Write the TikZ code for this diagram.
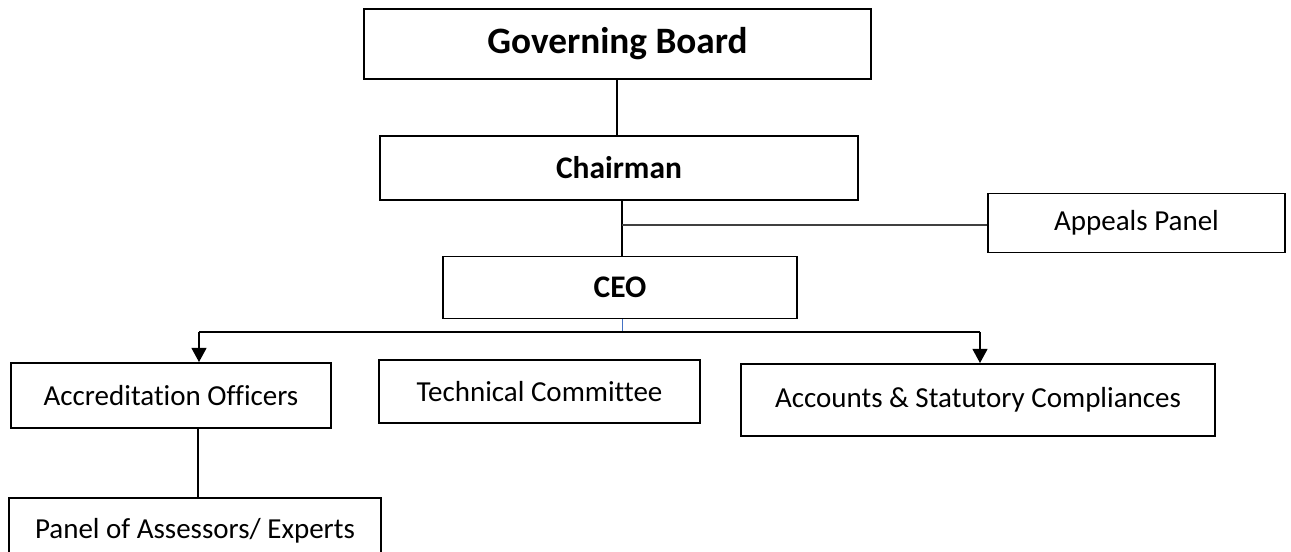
\documentclass[tikz,border=0pt]{standalone}
\usepackage{fontspec}
\setmainfont[Ligatures=NoCommon]{Carlito}
\usepackage{xcolor}
\usetikzlibrary{positioning, calc, arrows.meta}

\definecolor{stubblue}{RGB}{68,114,196}

\tikzset{
  box/.style={draw, line width=1.1pt, inner sep=0pt, align=center, font=\fontsize{16.5}{19}\selectfont},
  boldbox/.style={box, font=\fontsize{17.9}{21}\selectfont\bfseries},
  link/.style={line width=0.9pt},
  drop/.style={line width=0.7pt, -{Triangle[width=8.5pt,length=8pt]}},
}

\begin{document}
\begin{tikzpicture}
      \clip (0,0) rectangle (25.82,-11.04);
      \useasboundingbox (0,0) rectangle (25.82,-11.04);

      \node[boldbox, minimum width=10.14cm, minimum height=1.40cm, font=\fontsize{21.2}{25}\selectfont\bfseries] (board) at (12.35,-0.88) {Governing Board};
      \node[boldbox, minimum width=9.56cm, minimum height=1.28cm] (chair) at (12.38,-3.36) {Chairman};
      \node[box, minimum width=5.94cm, minimum height=1.18cm] (appeal) at (22.73,-4.46) {Appeals Panel};
      \node[boldbox, minimum width=7.08cm, minimum height=1.24cm] (ceo) at (12.40,-5.75) {CEO};

      \node[box, minimum width=6.40cm, minimum height=1.30cm] (officers) at (3.42,-7.91) {Accreditation Officers};
      \node[box, minimum width=6.42cm, minimum height=1.26cm] (techcom) at (10.79,-7.83) {Technical Committee};
      \node[box, minimum width=9.48cm, minimum height=1.44cm] (accounts) at (19.56,-8.00) {Accounts \& Statutory Compliances};
      \node[box, minimum width=7.44cm, minimum height=1.30cm] (panel) at (3.90,-10.61) {Panel of Assessors/ Experts};

      % spine
      \coordinate (spine) at (12.44,-4.50);
      \coordinate (bus) at (12.44,-6.64);
      \coordinate (busL) at (3.98,-6.64);
      \coordinate (busR) at (19.60,-6.64);

      \draw[link] (board.south -| 12.34,0) -- (chair.north -| 12.34,0);
      \draw[link] (chair.south -| spine) -- (ceo.north -| spine);
      \draw[link, black!75] (spine) -- (spine -| appeal.west);

      \draw[stubblue, line width=0.5pt] (ceo.south -| bus) -- (bus);
      \draw[line width=0.7pt] (busL) -- (busR);
      \draw[drop] (busL) -- (busL |- officers.north);
      \draw[drop] (busR) -- (busR |- accounts.north);

      \draw[line width=0.6pt] (officers.south -| 3.96,0) -- (panel.north -| 3.96,0);

    \end{tikzpicture}
\end{document}
